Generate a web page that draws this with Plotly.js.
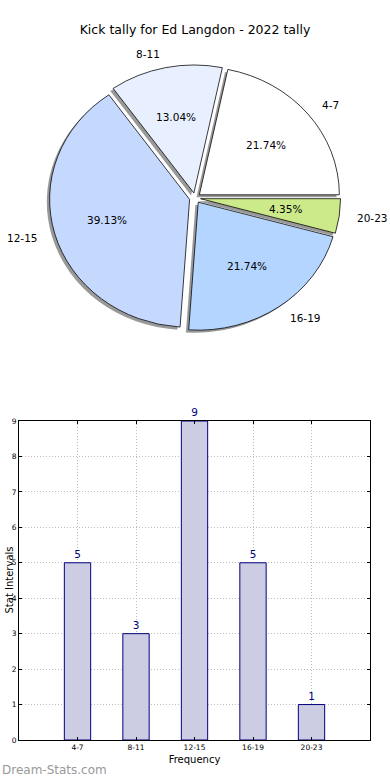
<!DOCTYPE html>
<html><head><meta charset="utf-8">
<script src="https://cdn.plot.ly/plotly-3.0.1.min.js"></script>
<style>html,body{margin:0;padding:0;background:#fff}#chart{width:390px;height:780px}</style>
</head><body><div id="chart"></div><script>
// ---- data ----
const categories = ['4-7', '8-11', '12-15', '16-19', '20-23'];
const counts = [5, 3, 9, 5, 1];
const pieColors = ['#ffffff', '#e8f0ff', '#c5d9ff', '#b3d5ff', '#cdea8a'];
const yTicks = [0, 1, 2, 3, 4, 5, 6, 7, 8, 9];
const titleText = 'Kick tally for Ed Langdon - 2022 tally';
const xTitle = 'Frequency';
const yTitle = 'Stat Intervals';
const watermark = 'Dream-Stats.com';

// ---- geometry ----
const W = 390, H = 780;
const cx = 195, cy = 198, rx = 140, ry = 128, explode = 0.05, pull = 0.04;
const FONT = 'DejaVu Sans, Arial, sans-serif';
const px2x = p => p / W, py2y = p => 1 - p / H;
const total = counts.reduce((a, b) => a + b, 0);
const half = rx * (1 + pull);
const dom = { x: [px2x(cx - half), px2x(cx + half)], y: [py2y(cy + half), py2y(cy - half)] };
const sdx = -0.02 * rx, sdy = 0.02 * rx;
const shadowDom = { x: [px2x(cx - half + sdx), px2x(cx + half + sdx)], y: [py2y(cy + half + sdy), py2y(cy - half + sdy)] };

const rev = a => a.slice().reverse();
const pieBase = {
  type: 'pie', sort: false, direction: 'clockwise', rotation: 90,
  values: rev(counts), pull: pull, textinfo: 'none', hoverinfo: 'skip', showlegend: false
};
const shadow = Object.assign({}, pieBase, {
  labels: rev(categories).map(c => c + ' s'), domain: shadowDom,
  marker: { colors: counts.map(() => 'rgba(110,110,110,0.7)'), line: { width: 0 } }
});
const pie = Object.assign({}, pieBase, {
  labels: rev(categories), domain: dom,
  marker: { colors: rev(pieColors), line: { color: '#000', width: 0.8 } }
});

const bars = {
  type: 'bar', x: categories, y: counts, xaxis: 'x', yaxis: 'y', width: 0.45,
  marker: { color: '#ccccE2', line: { color: '#000080', width: 1 } },
  text: counts.map(String), textposition: 'outside', cliponaxis: false,
  textfont: { color: '#000080', size: 10.5, family: FONT }, hoverinfo: 'skip', showlegend: false
};

// annotations for pie labels (matplotlib style)
const annotations = [];
let cum = 0;
counts.forEach((v, i) => {
  const th = (cum + v / 2) / total * 2 * Math.PI; cum += v;
  const ex = Math.cos(th), ey = Math.sin(th);
  const pf = 0.6 + explode, lf = 1.1 + explode;
  annotations.push({
    xref: 'paper', yref: 'paper', showarrow: false,
    x: px2x(cx + pf * rx * ex), y: py2y(cy - pf * ry * ey), xanchor: 'center', yanchor: 'middle',
    text: (v / total * 100).toFixed(2) + '%', font: { size: 10.5, color: '#000', family: FONT }
  });
  annotations.push({
    xref: 'paper', yref: 'paper', showarrow: false,
    x: px2x(cx + lf * rx * ex), y: py2y(cy - lf * ry * ey), xanchor: ex > 0 ? 'left' : 'right', yanchor: 'middle',
    text: categories[i], font: { size: 10.5, color: '#000', family: FONT }
  });
});
annotations.push({
  xref: 'paper', yref: 'paper', showarrow: false, x: 0, y: py2y(770), xanchor: 'left', yanchor: 'middle',
  text: watermark, font: { size: 12, color: '#999999', family: FONT }
});
annotations.push({
  xref: 'paper', yref: 'paper', showarrow: false, x: px2x(1), y: py2y(580), xanchor: 'left', yanchor: 'middle',
  textangle: -90, text: yTitle, font: { size: 10, color: '#000', family: FONT }
});

const axCommon = {
  showline: true, mirror: 'ticks', linecolor: '#000', linewidth: 1,
  ticks: 'inside', ticklen: 3, tickcolor: '#000', tickwidth: 1,
  showgrid: true, gridcolor: '#bdbdbd', griddash: '1px,2px', gridwidth: 1, zeroline: false,
  tickfont: { size: 7.5, color: '#000', family: FONT }, automargin: false
};

const layout = {
  width: W, height: H, margin: { l: 0, r: 0, t: 0, b: 0 },
  paper_bgcolor: '#fff', plot_bgcolor: '#fff', showlegend: false,
  font: { family: FONT, color: '#000' },
  title: { text: titleText, x: 0.5, xanchor: 'center', y: py2y(30), yanchor: 'middle', font: { size: 12.5, family: FONT, color: '#000' } },
  xaxis: Object.assign({}, axCommon, {
    domain: [px2x(19), px2x(370)], anchor: 'y', type: 'category', range: [-1, 5],
    title: { text: xTitle, font: { size: 10, family: FONT }, standoff: 4 }
  }),
  yaxis: Object.assign({}, axCommon, {
    domain: [py2y(740), py2y(421)], anchor: 'x', range: [0, 9], tickvals: yTicks,
    tickfont: { size: 7.5, color: '#000', family: FONT }
  }),
  annotations: annotations
};

Plotly.newPlot('chart', [shadow, pie, bars], layout, { staticPlot: true, displayModeBar: false }).then(gd => {
  const layer = gd.querySelector('.pielayer');
  if (layer) {
    const k = ry / rx;
    layer.setAttribute('transform', 'translate(0,' + (cy * (1 - k)) + ') scale(1,' + k + ')');
  }
});
</script></body></html>
